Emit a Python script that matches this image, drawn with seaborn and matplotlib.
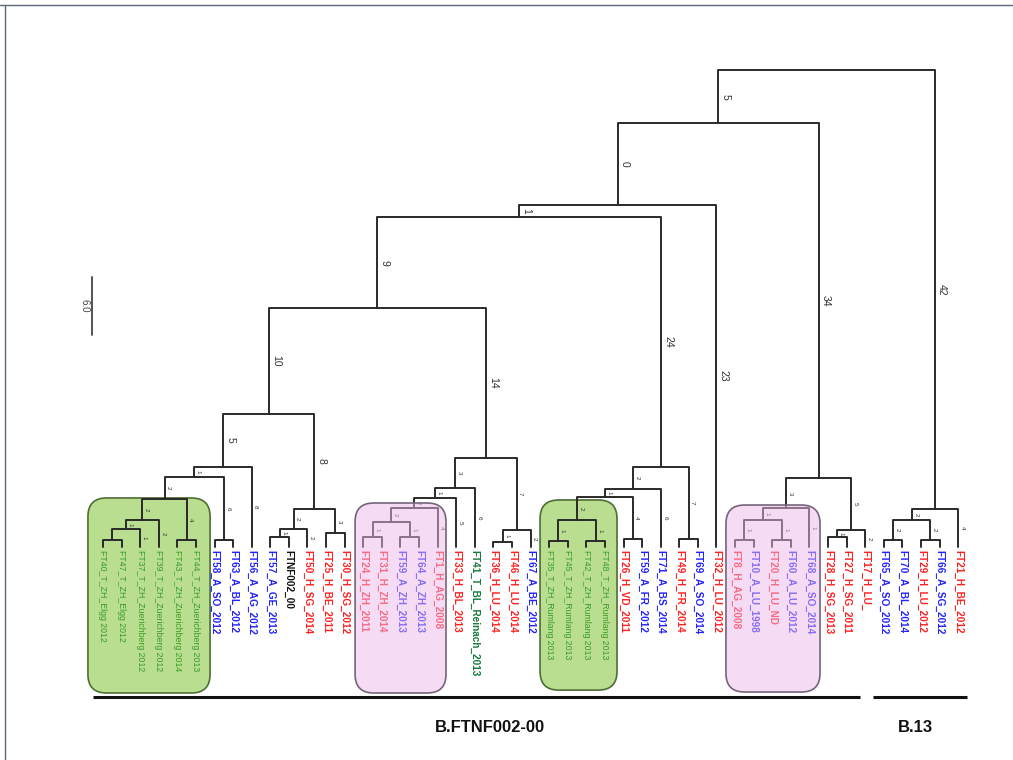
import matplotlib
matplotlib.use("Agg")
import matplotlib.pyplot as plt
from matplotlib.patches import FancyBboxPatch
from matplotlib.lines import Line2D
import numpy as np
import pandas as pd
import seaborn as sns

# ---------------- data ----------------
leaf_names = [
    "FT40_T_ZH_Elgg 2012", "FT47_T_ZH_Elgg 2012", "FT37_T_ZH_Zuerichberg 2012",
    "FT39_T_ZH_Zuerichberg 2012", "FT43_T_ZH_Zuerichberg 2014", "FT44_T_ZH_Zuerichberg 2013",
    "FT58_A_SO_2012", "FT63_A_BL_2012", "FT56_A_AG_2012", "FT57_A_GE_2013", "FTNF002_00",
    "FT50_H_SG_2014", "FT25_H_BE_2011", "FT30_H_SG_2012", "FT24_H_ZH_2011", "FT31_H_ZH_2014",
    "FT59_A_ZH_2013", "FT64_A_ZH_2013", "FT1_H_AG_2008", "FT33_H_BL_2013",
    "FT41_T_BL_Reinach_2013", "FT36_H_LU_2014", "FT46_H_LU_2014", "FT67_A_BE_2012",
    "FT35_T_ZH_Rumlang 2013", "FT45_T_ZH_Rumlang 2013", "FT42_T_ZH_Rumlang 2013",
    "FT48_T_ZH_Rumlang 2013", "FT26_H_VD_2011", "FT59_A_FR_2012", "FT71_A_BS_2014",
    "FT49_H_FR_2014", "FT69_A_SO_2014", "FT32_H_LU_2012", "FT8_H_AG_2008", "FT10_A_LU_1998",
    "FT20_H_LU_ND", "FT60_A_LU_2012", "FT68_A_SO_2014", "FT28_H_SG_2013", "FT27_H_SG_2011",
    "FT17_H_LU_", "FT65_A_SO_2012", "FT70_A_BL_2014", "FT29_H_LU_2012", "FT66_A_SG_2012",
    "FT21_H_BE_2012",
]
leaf_groups = [
    "T", "T", "T", "T", "T", "T",
    "A", "A", "A", "A", "R",
    "H", "H", "H", "H", "H",
    "A", "A", "H", "H",
    "Tb", "H", "H", "A",
    "T", "T", "T", "T", "H", "A", "A",
    "H", "A", "H", "H", "A",
    "H", "A", "A", "H", "H",
    "H", "A", "A", "H", "A",
    "H",
]

# internal nodes: name, left child, right child, height (distance units)
node_names = ["p1", "a1", "b1", "p2", "gb1", "p3", "A", "A2", "p4", "c1", "p5", "C", "L",
              "p6", "p7", "pk", "pk1", "F", "E", "p8", "G", "D", "N9",
              "p9", "p10", "gb2", "p11", "J", "I", "p12", "H", "N1", "N0",
              "p13", "p14", "pk2", "PK2", "p15", "k2", "K", "N5",
              "p16", "p17", "b13a", "B13", "root"]
node_left = [0, "p1", "a1", 4, "b1", 6, "gb1", "A", 9, "p4", 12, "c1", "A2",
             14, 16, "p6", "pk", "pk1", "F", 21, "p8", "E", "L",
             24, 26, "p9", 28, "gb2", "J", 31, "I", "N9", "N1",
             34, 36, "p13", "pk2", 39, "p15", "PK2", "N0",
             42, 44, "p16", "b13a", "N5"]
node_right = [1, 2, 3, 5, "p2", 7, "p3", 8, 10, 11, 13, "p5", "C",
              15, 17, "p7", 18, 19, 20, 22, 23, "G", "D",
              25, 27, "p10", 29, "p11", 30, 32, "p12", "H", 33,
              35, 37, "p14", 38, 40, 41, "k2", "K",
              43, 45, "p17", 46, "B13"]
node_heights = [0.7, 1.9, 2.8, 0.7, 5.0, 0.7, 7.2, 8.3, 1.0, 1.9, 1.4, 3.9, 13.8,
                1.0, 1.0, 2.6, 4.0, 5.1, 6.1, 0.5, 1.8, 9.2, 24.7,
                0.6, 0.6, 2.8, 0.8, 5.2, 6.0, 0.8, 8.3, 34.1, 35.4,
                0.7, 0.7, 2.8, 4.0, 1.0, 1.8, 7.1, 43.9,
                0.7, 0.7, 2.8, 3.9, 49.3]

# branch labels on the branch above each node
branch_keys = ["N5", "B13", "N0", "K", "N1", 33, "N9", "H", "L", "D", "A2", "C",
               "A", "gb1", "p3", 8, "E", "F", "G", 20, 19, "pk1", "pk", 18, 23, "p8",
               "I", "J", "p11", 30, "p12", "gb2", "PK2", "k2", 41, "pk2", 38,
               "b13a", 46, "p16", "p17", "b1", "a1", "p2", 3, 2, "c1", "p5", 11, "p4",
               "p15", "p13", "p14", "p9", "p10", "p6", "p7"]
branch_texts = ["5", "42", "0", "34", "1", "23", "9", "24", "10", "14", "5", "8",
                "1", "2", "6", "8", "3", "1", "7", "6", "5", "2", "2", "4", "2", "1",
                "2", "1", "4", "6", "7", "2", "3", "5", "2", "1", "1",
                "2", "4", "2", "2", "2", "1", "4", "2", "1", "2", "3", "2", "1",
                "1", "1", "1", "1", "1", "1", "1"]

big_labels = {"N5", "B13", "N0", "K", "N1", 33, "N9", "H", "L", "D", "A2", "C"}

# ---------------- layout helpers ----------------
group_colors = {"T": "#3a9a2a", "Tb": "#177a3c", "A": "#2222ff", "H": "#ff2020", "R": "#111111"}

pos_x = {i: float(i) for i in range(len(leaf_names))}
pos_h = {i: 0.0 for i in range(len(leaf_names))}
parent = {}
rows = []
for nm, l, r, h in zip(node_names, node_left, node_right, node_heights):
    pos_x[nm] = (pos_x[l] + pos_x[r]) / 2.0
    pos_h[nm] = h
    parent[l] = nm
    parent[r] = nm
    path = [(pos_x[l], pos_h[l]), (pos_x[l], h), (pos_x[r], h), (pos_x[r], pos_h[r])]
    for k, (xx, yy) in enumerate(path):
        rows.append({"node": nm, "order": k, "x": xx, "y": yy})
seg_df = pd.DataFrame(rows)

sns.set_theme(style="white")
plt.rcParams["font.family"] = ["Liberation Sans", "DejaVu Sans"]

fig = plt.figure(figsize=(10.13, 7.6), dpi=100)
ax = fig.add_axes([0, 0, 1, 1])
ax.set_xlim(-5.54, 48.95)
ax.set_ylim(-22.03, 56.57)
ax.axis("off")

sns.lineplot(data=seg_df, x="x", y="y", units="node", estimator=None, sort=False,
             color="#2a2a2a", linewidth=1.4, legend=False, ax=ax, zorder=2)

# leaf labels
for i, (nm, g) in enumerate(zip(leaf_names, leaf_groups)):
    if g == "T":
        fs, fw = 6.3, "normal"
    else:
        fs, fw = 7.2, "bold"
    ax.text(i, -0.35, nm, rotation=-90, ha="center", va="top", color=group_colors[g],
            fontsize=fs, fontweight=fw, zorder=3)

# branch labels
for key, txt in zip(branch_keys, branch_texts):
    par = parent[key]
    xm = pos_x[key]
    ym = (pos_h[key] + pos_h[par]) / 2.0
    big = key in big_labels
    ax.text(xm + (0.12 if big else 0.08), ym, txt, rotation=-90, ha="left", va="center",
            fontsize=7.5 if big else 4.5, color="#333333", zorder=3)

# coloured clade boxes: green ones beneath, pink ones as a translucent overlay
boxes = [
    (-0.81, -15.1, 6.57, 20.17, "#b9de90", "#4f6e34", 1),
    (23.51, -14.8, 4.14, 19.66, "#b9de90", "#4f6e34", 1),
    (13.56, -15.1, 4.89, 19.65, (0.93, 0.72, 0.91, 0.5), "#75657a", 5),
    (33.51, -15.0, 5.06, 19.34, (0.93, 0.72, 0.91, 0.5), "#75657a", 5),
]
for x0, y0, w, h, fc, ec, z in boxes:
    ax.add_patch(FancyBboxPatch((x0, y0), w, h,
                                boxstyle="round,pad=0,rounding_size=1.0",
                                mutation_aspect=1.922, facecolor=fc, edgecolor=ec,
                                linewidth=1.2, zorder=z))

# scale bar
ax.plot([-0.59, -0.59], [21.9, 27.9], color="#444444", lw=1.3)
ax.text(-1.0, 24.9, "6.0", rotation=-90, ha="center", va="center", fontsize=7, color="#444444")

# clade bars and names
ax.plot([-0.54, 40.7], [-15.5, -15.5], color="#111111", lw=2.2, solid_capstyle="butt")
ax.plot([41.4, 46.5], [-15.5, -15.5], color="#111111", lw=2.2, solid_capstyle="butt")
ax.text(20.8, -18.7, "B.FTNF002-00", ha="center", va="center", fontsize=12,
        fontweight="bold", color="#111111")
ax.text(43.7, -18.7, "B.13", ha="center", va="center", fontsize=12,
        fontweight="bold", color="#111111")

# frame lines
fig.add_artist(Line2D([0, 1], [0.994, 0.994], transform=fig.transFigure, color="#5a6878", lw=1.0))
fig.add_artist(Line2D([0.005, 0.005], [0, 0.994], transform=fig.transFigure, color="#5a6878", lw=1.0))

fig.savefig("out.png", dpi=100)
